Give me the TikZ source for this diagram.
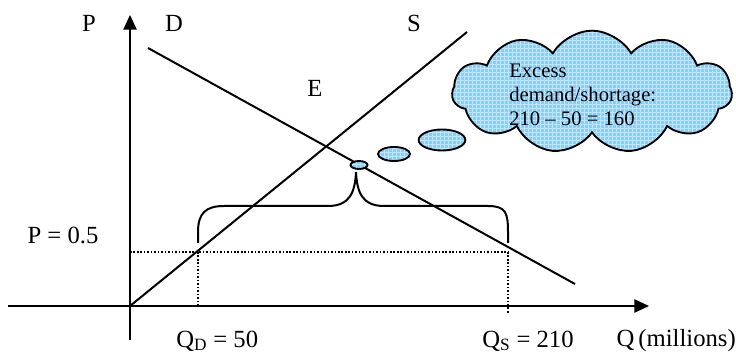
\documentclass[tikz,border=0pt]{standalone}
\usepackage{fontspec}
\setmainfont{Liberation Serif}
\usetikzlibrary{arrows.meta, shapes.geometric, shapes.symbols, patterns, positioning}
\definecolor{cloudblue}{RGB}{140,205,245}
\tikzset{
  axisline/.style={line width=1.1pt, -{Triangle[length=11pt, width=10pt]}},
  curveline/.style={line width=1.5pt},
  dotline/.style={line width=1.4pt, dash pattern=on 1.2pt off 1.4pt},
  bracketline/.style={line width=1.5pt},
  bubble/.style={ellipse, draw, line width=1.4pt, preaction={fill=cloudblue},
    pattern=grid, pattern color=white!45!cloudblue, inner sep=0pt},
  labeltext/.style={font=\fontsize{18.5}{21}\selectfont, inner sep=0pt},
  cloudtext/.style={font=\fontsize{15.5}{18}\selectfont, align=left, inner sep=0pt},
}

\begin{document}
\begin{tikzpicture}[x=0.75pt, y=-0.75pt]
  \useasboundingbox (0,0) rectangle (736,356);

  % Axes
  \coordinate (O) at (130,306);
  \coordinate (ybot) at (130,340);
  \coordinate (ytop) at (130,15);
  \coordinate (xleft) at (8,306);
  \coordinate (xright) at (649,306);
  \draw[axisline] (ybot) -- (ytop);
  \draw[axisline] (xleft) -- (xright);

  % Demand and supply
  \coordinate (dstart) at (148,48);
  \coordinate (dend) at (575,284);
  \coordinate (send) at (467,32);
  \draw[curveline] (dstart) -- (dend);
  \draw[curveline] (O) -- (send);

  % Price ceiling and quantities
  \coordinate (pleft) at (130,252);
  \coordinate (qd) at (198,252);
  \coordinate (qs) at (508,252);
  \draw[dotline] (pleft) -- (qs);
  \draw[dotline] (qd) -- (qd |- O);
  \draw[dotline] (qs) -- ([yshift=-5pt]qs |- O);

  % Brace over the shortage
  \draw[bracketline] (198,243) -- (198,232) .. controls (198,213) and (206,206) .. (224,206)
    -- (328,206) .. controls (350,206) and (355,192) .. (356,172);
  \draw[bracketline] (356,172) .. controls (357,192) and (362,206) .. (384,206)
    -- (488,206) .. controls (506,206) and (508,213) .. (508,232) -- (508,243);

  % Thought bubbles
  \node[bubble, minimum width=12.75pt, minimum height=6pt] (bub1) at (359,165) {};
  \node[bubble, minimum width=24pt, minimum height=10.5pt] (bub2) at (394,154) {};
  \node[bubble, minimum width=35pt, minimum height=15.75pt] (bub3) at (442,140) {};
  \node[cloud, draw, line width=1.4pt, preaction={fill=cloudblue}, pattern=grid,
    pattern color=white!45!cloudblue, cloud puffs=11, cloud puff arc=120, aspect=2.4,
    minimum width=210pt, minimum height=92pt, inner sep=0pt] (shortage) at (592,92) {};
  \node[cloudtext, anchor=north west] (shortagetext) at (509,64)
    {Excess\\demand/shortage:\\210 -- 50 = 160};

  % Labels
  \node[labeltext] (plabel) at (89,23) {P};
  \node[labeltext] (dlabel) at (174,23) {D};
  \node[labeltext] (slabel) at (414,23) {S};
  \node[labeltext] (elabel) at (315,88) {E};
  \node[labeltext] (pprice) at (63,235) {P = 0.5};
  \node[labeltext, anchor=west] (qdlabel) at (176,341) {Q\textsubscript{D} = 50};
  \node[labeltext, anchor=west] (qslabel) at (482,341) {Q\textsubscript{S} = 210};
  \node[labeltext, anchor=east] (qaxis) at (736,341) {Q\,(millions)};
\end{tikzpicture}
\end{document}
